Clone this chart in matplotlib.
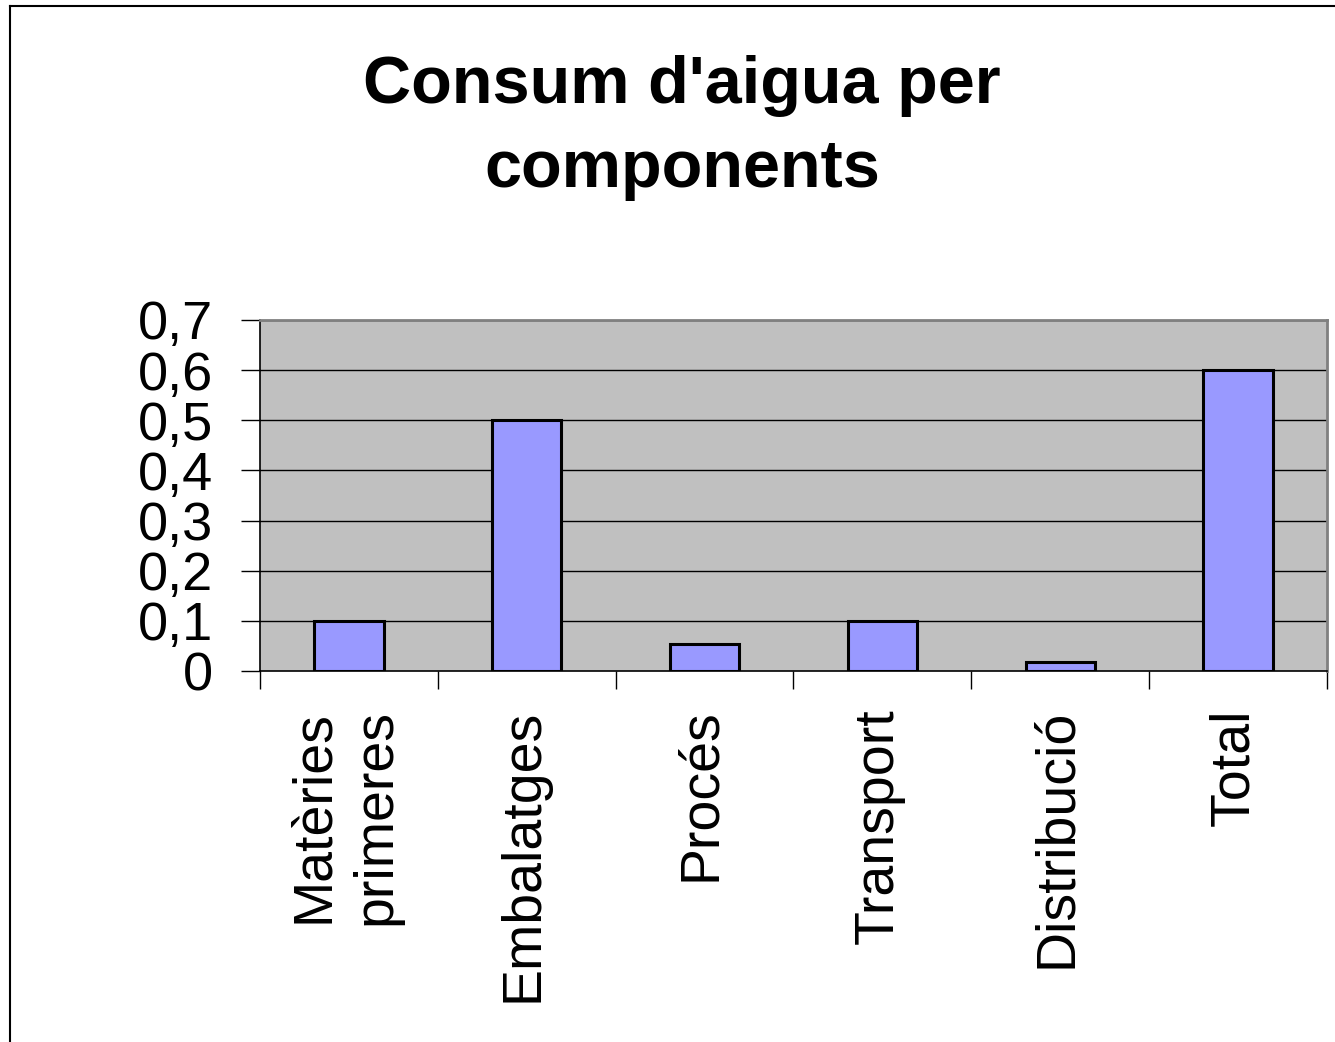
import matplotlib
matplotlib.use("Agg")
from matplotlib import pyplot as plt
from matplotlib.lines import Line2D
import numpy as np

categories = ["Matèries\nprimeres", "Embalatges", "Procés", "Transport", "Distribució", "Total"]
values = [0.1, 0.5, 0.053, 0.1, 0.018, 0.6]
yticks = [0, 0.1, 0.2, 0.3, 0.4, 0.5, 0.6, 0.7]
ytick_labels = ["0", "0,1", "0,2", "0,3", "0,4", "0,5", "0,6", "0,7"]

plt.rcParams["font.family"] = ["Liberation Sans", "DejaVu Sans"]

W, H = 1335, 1042
fig = plt.figure(figsize=(W / 100, H / 100), dpi=100)
ax = fig.add_axes([260 / W, 1 - 671 / H, (1327 - 260) / W, (671 - 320) / H])
ax.set_facecolor("#C0C0C0")

x = np.arange(len(categories))
ax.bar(x, values, width=0.39, color="#9999FF", edgecolor="black", linewidth=2.2, zorder=3)

ax.set_xlim(-0.5, len(categories) - 0.5)
ax.set_ylim(0, 0.7)
ax.set_yticks(yticks)
ax.set_yticklabels(ytick_labels, fontsize=39)
for v in yticks[1:]:
    ax.axhline(v, color="black", linewidth=1.0, zorder=1)

# category boundaries as ticks
ax.set_xticks(np.arange(-0.5, len(categories), 1.0))
ax.set_xticklabels([])
ax.tick_params(axis="x", length=13, width=1, color="black")
ax.tick_params(axis="y", length=14, width=1, color="black", pad=20)

for xi, lab in zip(x, categories):
    ax.text(xi - 0.02, -0.075, lab, rotation=90, ha="center", va="top",
            fontsize=40, multialignment="center", linespacing=1.25,
            transform=ax.transData)

for s in ["left", "bottom"]:
    ax.spines[s].set_color("black")
    ax.spines[s].set_linewidth(1.2)
for s in ["top", "right"]:
    ax.spines[s].set_color("#808080")
    ax.spines[s].set_linewidth(2)

fig.text(0.511, 1 - 128 / H, "Consum d'aigua per\ncomponents", ha="center", va="center",
         fontsize=48, fontweight="bold", linespacing=1.44)

# outer chart border (left and top visible)
fig.add_artist(Line2D([9.5 / W, 9.5 / W], [0, 1 - 5.5 / H], color="black", linewidth=1.5))
fig.add_artist(Line2D([9.5 / W, 1], [1 - 5.5 / H, 1 - 5.5 / H], color="black", linewidth=1.5))

fig.savefig("out.png", dpi=100)
